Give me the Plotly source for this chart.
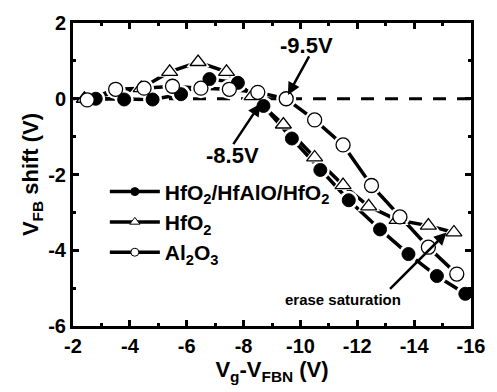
import plotly.graph_objects as go

# Flat-band voltage shift vs. erase gate voltage for three charge-trap stacks
stack_x = [-2.8, -3.8, -4.8, -5.8, -6.8, -7.8, -8.7, -9.7, -10.7, -11.7, -12.8, -13.8, -14.8, -15.8]
stack_y = [0.0, -0.02, -0.02, 0.12, 0.52, 0.42, -0.19, -1.05, -1.88, -2.68, -3.45, -4.1, -4.68, -5.15]

hfo2_x = [-2.4, -4.4, -5.4, -6.4, -7.4, -8.3, -9.4, -10.5, -11.5, -12.4, -13.4, -14.5, -15.4]
hfo2_y = [0.0, 0.28, 0.71, 0.97, 0.71, 0.07, -0.68, -1.55, -2.28, -2.84, -3.2, -3.35, -3.53]

al2o3_x = [-2.5, -3.5, -4.5, -5.5, -6.5, -7.5, -8.5, -9.5, -10.5, -11.5, -12.5, -13.5, -14.5, -15.5]
al2o3_y = [-0.03, 0.25, 0.28, 0.33, 0.28, 0.25, 0.17, 0.0, -0.56, -1.22, -2.29, -3.12, -3.92, -4.63]

series_names = ["HfO<sub>2</sub>/HfAlO/HfO<sub>2</sub>", "HfO<sub>2</sub>", "Al<sub>2</sub>O<sub>3</sub>"]

x_ticks = [-2, -4, -6, -8, -10, -12, -14, -16]
x_ticktext = ["-2", "-4", "-6", "-8", "-10", "-12", "-14", "-16"]
y_ticks = [-6, -4, -2, 0, 2]
y_ticktext = ["-6", "-4", "-2", "0", "2"]

FONT = "Liberation Sans, Arial, Helvetica, sans-serif"

series = [
    (stack_x, stack_y, dict(symbol="circle", size=13, color="black", line=dict(color="black", width=1))),
    (hfo2_x, hfo2_y, dict(symbol="triangle-up", size=14, color="white", line=dict(color="black", width=1.3))),
    (al2o3_x, al2o3_y, dict(symbol="circle", size=14, color="white", line=dict(color="black", width=1.3))),
]
legend_markers = [
    dict(symbol="circle", size=8, color="black", line=dict(color="black", width=1)),
    dict(symbol="triangle-up", size=9, color="white", line=dict(color="black", width=1)),
    dict(symbol="circle", size=8, color="white", line=dict(color="black", width=1)),
]

fig = go.Figure()

# connecting lines
for xs, ys, mk in series:
    fig.add_trace(go.Scatter(x=xs, y=ys, mode="lines", showlegend=False, hoverinfo="skip",
                             line=dict(color="black", width=3.5)))
# white halos leave a small gap between each line and its symbols
for xs, ys, mk in series:
    fig.add_trace(go.Scatter(x=xs, y=ys, mode="markers", showlegend=False, hoverinfo="skip",
                             marker=dict(symbol=mk["symbol"], size=mk["size"] + 6, color="white",
                                         line=dict(width=0))))
# symbols
for (xs, ys, mk), name in zip(series, series_names):
    fig.add_trace(go.Scatter(x=xs, y=ys, mode="markers", name=name, showlegend=False, marker=mk))

# legend entries with small symbols
for name, lm in zip(series_names, legend_markers):
    fig.add_trace(go.Scatter(x=[None], y=[None], mode="lines+markers", name=name, legendgroup=name,
                             line=dict(color="black", width=3.5), marker=lm))

# dashed reference line at zero shift
fig.add_shape(type="line", xref="x", yref="y", x0=-2, x1=-16, y0=0, y1=0,
              line=dict(color="black", width=3, dash="13px,11px"), layer="below")

ann_font = dict(family=FONT, size=22, color="black", weight="bold")
arrow = dict(showarrow=True, arrowhead=2, arrowsize=1, arrowwidth=2.5, arrowcolor="black",
             axref="pixel", ayref="pixel", text="")

fig.add_annotation(x=-8.59, y=-0.13, ax=-28, ay=42, **arrow)
fig.add_annotation(x=-7.6, y=-1.5, text="-8.5V", showarrow=False, font=ann_font)

fig.add_annotation(x=-9.56, y=0.1, ax=22, ay=-40, **arrow)
fig.add_annotation(x=-10.22, y=1.41, text="-9.5V", showarrow=False, font=ann_font)

fig.add_annotation(x=-15.14, y=-3.53, ax=-58, ay=58, **arrow)
fig.add_annotation(x=-11.5, y=-5.3, text="erase saturation", showarrow=False,
                   font=dict(family=FONT, size=15, color="black", weight="bold"))

axis_common = dict(
    showline=True, linecolor="black", linewidth=3, mirror="ticks",
    ticks="inside", ticklen=6, tickwidth=3, tickcolor="black",
    showgrid=False, zeroline=False,
    tickfont=dict(family=FONT, size=20, color="black", weight="bold"),
    minor=dict(ticks="inside", ticklen=3, tickwidth=3, tickcolor="black", dtick=1, showgrid=False),
)

fig.update_xaxes(
    range=[-2, -16], tickmode="array", tickvals=x_ticks, ticktext=x_ticktext,
    title=dict(text="V<sub>g</sub>-V<sub>FBN</sub> (V)", standoff=2,
               font=dict(family=FONT, size=22, color="black", weight="bold")),
    **axis_common,
)
fig.update_yaxes(
    range=[-6, 2], tickmode="array", tickvals=y_ticks, ticktext=y_ticktext,
    title=dict(text="V<sub>FB</sub> shift (V)", standoff=4,
               font=dict(family=FONT, size=22, color="black", weight="bold")),
    **axis_common,
)

fig.update_layout(
    width=497, height=392,
    margin=dict(l=73, r=22, t=15, b=66),
    paper_bgcolor="white", plot_bgcolor="white",
    legend=dict(x=0.08, y=0.51, xanchor="left", yanchor="top",
                bgcolor="rgba(0,0,0,0)", itemwidth=50, tracegroupgap=0,
                font=dict(family=FONT, size=21, color="black", weight="bold")),
)

fig.write_html("out.html")
